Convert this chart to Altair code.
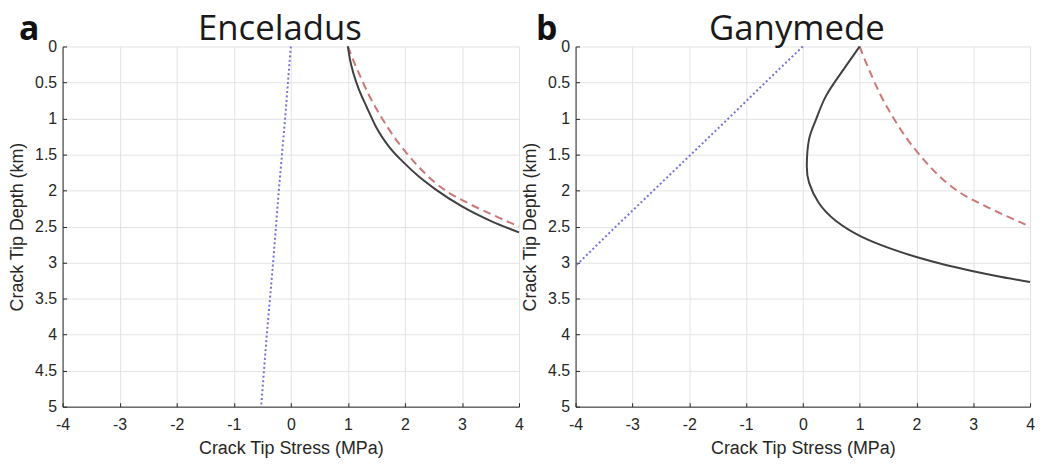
import altair as alt
import pandas as pd

# ---------------- data ----------------
x_ticks = [-4, -3, -2, -1, 0, 1, 2, 3, 4]
y_ticks = [0, 0.5, 1, 1.5, 2, 2.5, 3, 3.5, 4, 4.5, 5]
titles = ["Enceladus", "Ganymede"]
letters = ["a", "b"]

# Enceladus
enc_blue_stress = [0.0, -0.10, -0.21, -0.31, -0.42, -0.52]
enc_blue_depth = [0.0, 1.0, 2.0, 3.0, 4.0, 5.0]
enc_black_stress = [1.0, 1.04, 1.10, 1.20, 1.33, 1.49, 1.72, 1.99, 2.25, 2.53, 3.0, 3.5, 4.0]
enc_black_depth = [0.0, 0.19, 0.38, 0.61, 0.84, 1.11, 1.39, 1.62, 1.81, 1.98, 2.22, 2.42, 2.58]
enc_red_stress = [1.0, 1.10, 1.22, 1.36, 1.51, 1.68, 1.86, 2.03, 2.24, 2.5, 2.75, 3.12, 3.6, 4.0]
enc_red_depth = [0.0, 0.20, 0.42, 0.66, 0.88, 1.10, 1.31, 1.48, 1.67, 1.87, 2.02, 2.18, 2.36, 2.5]

# Ganymede
gan_blue_stress = [0.0, -0.66, -1.31, -1.97, -2.63, -3.29, -3.94, -4.0]
gan_blue_depth = [0.0, 0.5, 1.0, 1.5, 2.0, 2.5, 3.0, 3.04]
gan_black_stress = [1.0, 0.69, 0.40, 0.23, 0.11, 0.07, 0.11, 0.28, 0.58, 1.03, 1.56, 2.03, 2.5, 3.0, 3.5, 4.0]
gan_black_depth = [0.0, 0.35, 0.70, 1.02, 1.29, 1.65, 1.89, 2.17, 2.42, 2.64, 2.81, 2.93, 3.03, 3.12, 3.20, 3.27]
gan_red_stress = [1.0, 1.10, 1.22, 1.36, 1.51, 1.68, 1.86, 2.03, 2.24, 2.5, 2.75, 3.12, 3.6, 4.0]
gan_red_depth = [0.0, 0.20, 0.42, 0.66, 0.88, 1.10, 1.31, 1.48, 1.67, 1.87, 2.02, 2.18, 2.36, 2.5]

BLACK = "#404040"
RED = "#cc7676"
BLUE = "#7272d8"
AXIS = "#262626"
FONT = "Liberation Sans"
H = 363


def series(stress, depth):
    return pd.DataFrame({"stress": stress, "depth": depth, "i": list(range(len(stress)))})


def panel(blue, black, red, title, letter, width, title_dx, letter_x, black_interp):
    xscale = alt.Scale(domain=[-4, 4], nice=False, zero=False)
    yscale = alt.Scale(domain=[0, 5], reverse=True, nice=False, zero=False)
    # main axes (bottom / left)
    xs = alt.X("stress:Q", scale=xscale,
               axis=alt.Axis(values=x_ticks, title="Crack Tip Stress (MPa)",
                             labelExpr="datum.value + ''", labelPadding=10,
                             labelFlush=False, titlePadding=7))
    ys = alt.Y("depth:Q", scale=yscale,
               axis=alt.Axis(values=y_ticks, title="Crack Tip Depth (km)",
                             labelExpr="datum.value + ''", labelPadding=6,
                             labelFlush=False, titlePadding=8))
    # no axes
    xs_no = alt.X("stress:Q", scale=xscale, axis=None)
    ys_no = alt.Y("depth:Q", scale=yscale, axis=None)
    # inward tick marks (MATLAB style): tick-only axes moved onto the bottom / left edges
    xs_in = alt.X("stress:Q", scale=xscale,
                  axis=alt.Axis(values=x_ticks, orient="top", offset=-H, labels=False,
                                domain=False, grid=False, ticks=True, tickSize=4,
                                tickColor=AXIS, tickWidth=1, title=None))
    ys_in = alt.Y("depth:Q", scale=yscale,
                  axis=alt.Axis(values=y_ticks, orient="right", offset=-width, labels=False,
                                domain=False, grid=False, ticks=True, tickSize=4,
                                tickColor=AXIS, tickWidth=1, title=None))
    o = alt.Order("i:Q")
    l_blue = alt.Chart(series(*blue)).mark_line(
        color=BLUE, strokeWidth=2, strokeDash=[2, 2.5]).encode(x=xs, y=ys, order=o)
    l_red = alt.Chart(series(*red)).mark_line(
        color=RED, strokeWidth=2, strokeDash=[8, 5], interpolate="monotone").encode(x=xs_no, y=ys_no, order=o)
    l_black = alt.Chart(series(*black)).mark_line(
        color=BLACK, strokeWidth=2, interpolate=black_interp).encode(x=xs_in, y=ys_in, order=o)
    lab = alt.Chart(pd.DataFrame({"t": [letter]})).mark_text(
        font="Open Sans", fontSize=34, fontWeight="bold", color="#111111",
        align="left", baseline="alphabetic").encode(
        text="t:N", x=alt.value(letter_x), y=alt.value(-7))
    ttl = alt.Chart(pd.DataFrame({"t": [title]})).mark_text(
        font="Open Sans", fontSize=35, fontWeight="normal", color="#1a1a1a",
        align="center", baseline="alphabetic").encode(
        text="t:N", x=alt.value(width / 2 + title_dx), y=alt.value(-7))
    return alt.layer(l_blue, l_red, l_black, lab, ttl).resolve_axis(
        x="independent", y="independent").properties(width=width, height=H)


pa = panel((enc_blue_stress, enc_blue_depth), (enc_black_stress, enc_black_depth),
           (enc_red_stress, enc_red_depth), titles[0], letters[0], 460, -11, -44, "monotone")
pb = panel((gan_blue_stress, gan_blue_depth), (gan_black_stress, gan_black_depth),
           (gan_red_stress, gan_red_depth), titles[1], letters[1], 458, -6, -40, "natural")

chart = alt.hconcat(pa, pb, spacing=57, bounds="flush").properties(
    padding={"left": 0, "top": 2, "right": 0, "bottom": 0}
).configure_view(strokeWidth=0).configure_axis(
    domainColor=AXIS, domainWidth=1, ticks=False, tickSize=0,
    grid=True, gridColor="#e3e3e3", gridWidth=1,
    labelFont=FONT, labelFontSize=16, labelColor=AXIS,
    titleFont=FONT, titleFontSize=18, titleFontWeight="normal", titleColor=AXIS,
)

chart.save("out.html", embed_options={"renderer": "svg", "actions": False})
